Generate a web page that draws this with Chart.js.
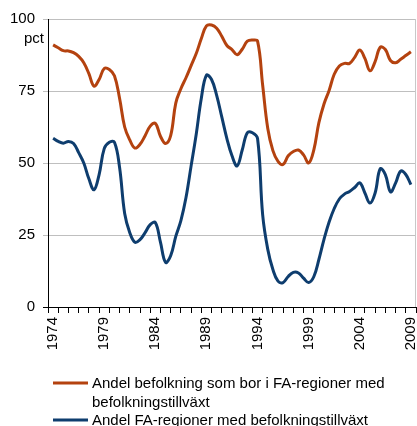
<!DOCTYPE html>
<html>
<head>
<meta charset="utf-8">
<script src="https://cdn.jsdelivr.net/npm/chart.js@4"></script>
<style>
html, body { margin: 0; padding: 0; background: #fff; }
</style>
</head>
<body>
<canvas id="grafica" width="417" height="426"></canvas>
<script>
const $grafica = document.querySelector("#grafica");

const forstaAr = 1974;
const sistaAr = 2009;
const yTicks = [0, 25, 50, 75, 100];

const tidpunkter = [
    1974.5, 1975.0, 1975.5, 1976.0, 1976.5, 1977.0, 1977.5, 1978.0, 1978.5, 1979.0,
    1979.5, 1980.0, 1980.5, 1981.0, 1981.5, 1982.0, 1982.5, 1983.0, 1983.5, 1984.0,
    1984.5, 1985.0, 1985.5, 1986.0, 1986.5, 1987.0, 1987.5, 1988.0, 1988.5, 1989.0,
    1989.5, 1990.0, 1990.5, 1991.0, 1991.5, 1992.0, 1992.5, 1993.0, 1993.5, 1994.0,
    1994.5, 1995.0, 1995.5, 1996.0, 1996.5, 1997.0, 1997.5, 1998.0, 1998.5, 1999.0,
    1999.5, 2000.0, 2000.5, 2001.0, 2001.5, 2002.0, 2002.5, 2003.0, 2003.5, 2004.0,
    2004.5, 2005.0, 2005.5, 2006.0, 2006.5, 2007.0, 2007.5, 2008.0, 2008.5, 2009.0,
    2009.5
];

// Andel befolkning som bor i FA-regioner med befolkningstillväxt
const befolkningAndel = [
    91.0, 90.0, 89.0, 88.9, 88.3, 87.0, 84.8, 81.0, 76.7, 79.0,
    82.8, 82.5, 80.3, 72.5, 62.5, 58.0, 55.2, 56.5, 59.5, 62.8,
    63.8, 59.3, 56.8, 59.5, 70.8, 75.8, 79.6, 83.8, 88.0, 93.2,
    97.6, 97.9, 96.8, 94.0, 90.8, 89.4, 87.6, 89.5, 92.3, 92.7,
    92.3, 77.0, 62.0, 54.3, 50.6, 49.5, 52.5, 54.0, 54.5, 52.8,
    50.0, 54.5, 64.0, 70.5, 75.2, 80.8, 83.7, 84.6, 84.6, 86.7,
    89.2, 86.3, 82.0, 85.2, 90.2, 89.4, 85.6, 84.8, 86.0, 87.3,
    88.6
];

// Andel FA-regioner med befolkningstillväxt
const regionAndel = [
    58.6, 57.5, 56.9, 57.5, 56.8, 53.6, 50.0, 44.5, 40.7, 46.0,
    55.0, 57.2, 57.2, 48.5, 32.5, 25.8, 22.5, 23.4, 25.8, 28.6,
    29.3, 22.5, 15.5, 17.8, 24.5, 30.0, 38.0, 49.0, 60.0, 72.5,
    80.5, 79.0, 73.5, 66.0, 58.5, 52.5, 49.0, 54.5, 60.5, 60.5,
    58.5, 32.0, 20.0, 13.0, 9.0, 8.5, 10.6, 12.0, 11.8, 10.0,
    8.5, 10.5, 16.5, 23.5, 29.5, 34.2, 37.5, 39.2, 40.1, 41.5,
    43.1, 39.6, 36.1, 39.6, 48.0, 46.0, 40.0, 43.0, 47.2, 46.0,
    42.5
];

const etiketter = [
    "Andel befolkning som bor i FA-regioner med befolkningstillväxt",
    "Andel FA-regioner med befolkningstillväxt"
];
const farger = ['#b4420f', '#0e3d6e'];

const typsnitt = "'Liberation Sans', Arial, sans-serif";

const punkter = (varden) => tidpunkter.map((t, i) => ({ x: t, y: varden[i] }));

// "pct" ovanför y-axeln, ram till höger och egen legend under diagrammet
const extraText = {
    id: 'extraText',
    afterDraw(chart) {
        const ctx = chart.ctx;
        const area = chart.chartArea;
        ctx.save();
        ctx.strokeStyle = '#c8c8c8';
        ctx.lineWidth = 1;
        ctx.beginPath();
        ctx.moveTo(area.right - 0.5, area.top);
        ctx.lineTo(area.right - 0.5, area.bottom);
        ctx.stroke();

        ctx.fillStyle = '#000';
        ctx.font = '15px ' + typsnitt;
        ctx.textAlign = 'right';
        ctx.textBaseline = 'middle';
        ctx.fillText('pct', 44, 39);

        ctx.textAlign = 'left';
        let y = 383;
        chart.data.datasets.forEach((ds) => {
            ctx.strokeStyle = ds.borderColor;
            ctx.lineWidth = 3;
            ctx.beginPath();
            ctx.moveTo(53, y);
            ctx.lineTo(88, y);
            ctx.stroke();
            // radbrytning
            const ord = ds.label.split(' ');
            let rad = '';
            const rader = [];
            ord.forEach((o) => {
                const test = rad ? rad + ' ' + o : o;
                if (ctx.measureText(test).width > 318 && rad) {
                    rader.push(rad);
                    rad = o;
                } else {
                    rad = test;
                }
            });
            rader.push(rad);
            rader.forEach((r) => {
                ctx.fillText(r, 92, y + 1);
                y += 18.5;
            });
        });
        ctx.restore();
    }
};

new Chart($grafica, {
    type: 'line',
    data: {
        datasets: [
            {
                label: etiketter[0],
                data: punkter(befolkningAndel),
                borderColor: farger[0],
                borderWidth: 3,
                pointRadius: 0,
                tension: 0.4,
                fill: false,
            },
            {
                label: etiketter[1],
                data: punkter(regionAndel),
                borderColor: farger[1],
                borderWidth: 3,
                pointRadius: 0,
                tension: 0.4,
                fill: false,
            },
        ]
    },
    options: {
        responsive: false,
        animation: false,
        events: [],
        layout: { padding: { top: 19, right: 1, bottom: 69, left: 0 } },
        plugins: {
            legend: { display: false },
            tooltip: { enabled: false },
        },
        scales: {
            x: {
                type: 'linear',
                min: forstaAr,
                max: sistaAr + 1,
                afterBuildTicks(scale) {
                    const t = [];
                    for (let ar = forstaAr; ar <= sistaAr + 1; ar++) t.push({ value: ar });
                    scale.ticks = t;
                },
                afterFit(scale) {
                    scale.height = 50;
                    scale.paddingLeft = 0;
                    scale.paddingRight = 0;
                },
                grid: {
                    drawOnChartArea: false,
                    tickLength: 6,
                    tickColor: '#000',
                },
                border: { color: '#000', width: 1 },
                ticks: {
                    autoSkip: false,
                    minRotation: 90,
                    maxRotation: 90,
                    labelOffset: 5,
                    padding: 4,
                    color: '#000',
                    font: { family: typsnitt, size: 15 },
                    callback: (v) => ((v - forstaAr) % 5 === 0 && v <= sistaAr) ? String(v) : '',
                },
            },
            y: {
                min: 0,
                max: 100,
                afterBuildTicks(scale) {
                    scale.ticks = yTicks.map((v) => ({ value: v }));
                },
                afterFit(scale) {
                    scale.width = 48;
                },
                grid: {
                    color: (c) => c.tick && c.tick.value === 0 ? '#000' : '#bfbfbf',
                    lineWidth: 1,
                    tickLength: 5,
                },
                border: { color: '#000', width: 1 },
                ticks: {
                    padding: 8,
                    color: '#000',
                    font: { family: typsnitt, size: 15 },
                },
            },
        },
    },
    plugins: [extraText],
});
</script>
</body>
</html>
